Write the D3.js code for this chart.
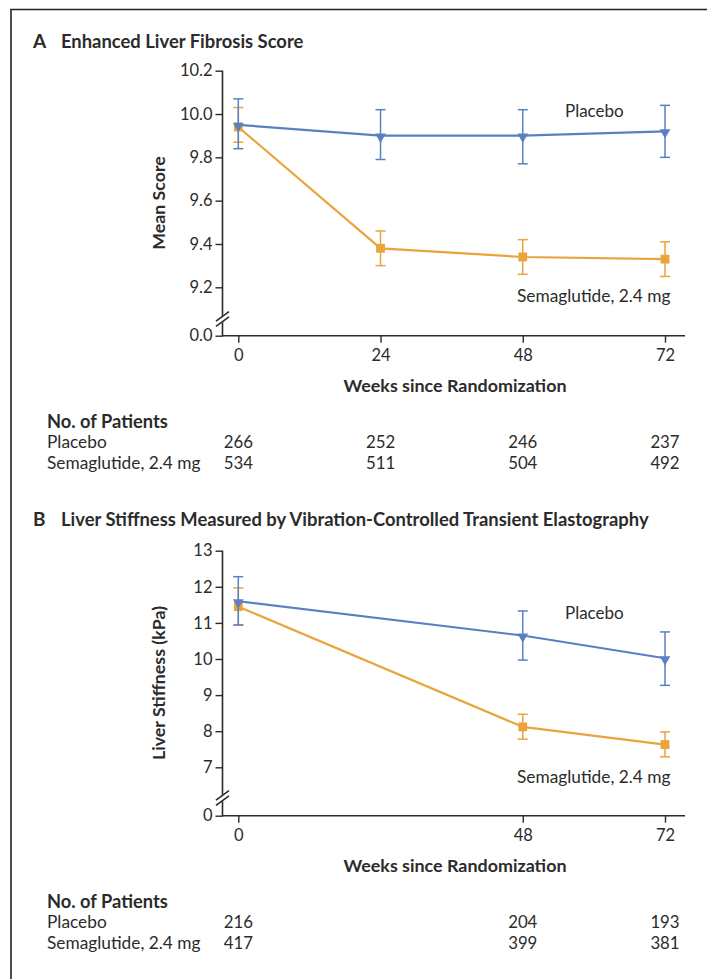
<!DOCTYPE html>
<html>
<head>
<meta charset="utf-8">
<script src="https://cdn.jsdelivr.net/npm/d3@7"></script>
<style>
  html, body { margin: 0; padding: 0; background: #fff; }
  svg { display: block; }
  text { font-family: Lato, "Open Sans", sans-serif; fill: #2b2b2b; }
</style>
</head>
<body>
<svg id="fig" width="707" height="979"></svg>
<script>
// ---- Panel A: Enhanced Liver Fibrosis score ----
const weeksA = [0, 24, 48, 72];
const placeboA = [9.95, 9.90, 9.90, 9.92];
const placeboA_lo = [9.84, 9.79, 9.77, 9.80];
const placeboA_hi = [10.07, 10.02, 10.02, 10.04];
const semaA = [9.94, 9.38, 9.34, 9.33];
const semaA_lo = [9.87, 9.30, 9.26, 9.25];
const semaA_hi = [10.03, 9.46, 9.42, 9.41];
const yTicksA = [0, 9.2, 9.4, 9.6, 9.8, 10.0, 10.2];
const patientsA_placebo = [266, 252, 246, 237];
const patientsA_sema = [534, 511, 504, 492];

// ---- Panel B: liver stiffness (VCTE) ----
const weeksB = [0, 48, 72];
const placeboB = [11.60, 10.65, 10.02];
const placeboB_lo = [10.94, 9.97, 9.27];
const placeboB_hi = [12.28, 11.33, 10.75];
const semaB = [11.45, 8.12, 7.63];
const semaB_lo = [10.95, 7.78, 7.29];
const semaB_hi = [11.97, 8.47, 7.98];
const yTicksB = [0, 7, 8, 9, 10, 11, 12, 13];
const patientsB_placebo = [216, 204, 193];
const patientsB_sema = [417, 399, 381];

const seriesNames = ["Placebo", "Semaglutide, 2.4 mg"];

const BLUE = "#5b80c2";
const ORANGE = "#e9a43c";
const INK = "#2b2b2b";

const svg = d3.select("#fig");

// frame (top and left rules)
svg.append("line").attr("x1", 10.5).attr("x2", 707).attr("y1", 9.5).attr("y2", 9.5)
  .attr("stroke", "#222").attr("stroke-width", 1.6);
svg.append("line").attr("x1", 11).attr("x2", 11).attr("y1", 9).attr("y2", 979)
  .attr("stroke", "#222").attr("stroke-width", 1.6);

function drawPanel(cfg) {
  const g = svg.append("g");

  // panel heading
  g.append("text").attr("x", 33).attr("y", cfg.titleY)
    .attr("font-size", 19).attr("font-weight", 700).text(cfg.letter);
  g.append("text").attr("x", 61).attr("y", cfg.titleY)
    .attr("font-size", 18.4).attr("font-weight", 700).text(cfg.title);

  const x = d3.scaleLinear().domain([0, 72]).range([238.3, 665]);
  const y = d3.scaleLinear().domain(cfg.yDomain).range(cfg.yRange);

  const axisX = 222.5;
  const base = cfg.yRange[0];
  const top = cfg.yRange[2];
  const brk = cfg.breakY;

  // y axis with a break between zero and the first value tick
  const yAxis = d3.axisLeft(y).tickValues(cfg.yTicks).tickFormat(cfg.fmt)
    .tickSize(7).tickPadding(3);
  const ya = g.append("g").attr("transform", `translate(${axisX},0)`).call(yAxis);
  ya.select(".domain").remove();
  ya.selectAll(".tick line").attr("stroke", INK).attr("stroke-width", 1.4);
  ya.selectAll(".tick text").attr("font-size", 16.5).attr("fill", INK)
    .attr("font-family", "Lato, sans-serif");

  const axisStroke = { stroke: INK, "stroke-width": 1.6 };
  function line(x1, y1, x2, y2) {
    const l = g.append("line").attr("x1", x1).attr("y1", y1).attr("x2", x2).attr("y2", y2);
    Object.entries(axisStroke).forEach(([k, v]) => l.attr(k, v));
    return l;
  }
  line(axisX, top, axisX, brk - 3.2);
  line(axisX, brk + 3.2, axisX, base + 0.8);
  [-2.6, 2.6].forEach(o => line(axisX - 6.5, brk + o + 4.8, axisX + 6.5, brk + o - 4.8));

  // x axis
  const xAxis = d3.axisBottom(x).tickValues(cfg.weeks).tickFormat(d3.format("d"))
    .tickSize(7).tickPadding(7);
  const xa = g.append("g").attr("transform", `translate(0,${base})`).call(xAxis);
  xa.select(".domain").remove();
  xa.selectAll(".tick line").attr("stroke", INK).attr("stroke-width", 1.4);
  xa.selectAll(".tick text").attr("font-size", 16.5).attr("fill", INK)
    .attr("font-family", "Lato, sans-serif");
  line(axisX, base, 685, base);

  // axis titles
  g.append("text").attr("x", 455).attr("y", cfg.xTitleY).attr("text-anchor", "middle")
    .attr("font-size", 17.9).attr("font-weight", 700).text("Weeks since Randomization");
  g.append("text")
    .attr("transform", `translate(165,${cfg.yTitleMid}) rotate(-90)`)
    .attr("text-anchor", "middle").attr("font-size", 17.8).attr("font-weight", 700)
    .text(cfg.yTitle);

  // series: error bars, connecting line, markers
  const series = [
    { v: cfg.sema, lo: cfg.semaLo, hi: cfg.semaHi, color: ORANGE, sym: "square" },
    { v: cfg.placebo, lo: cfg.placeboLo, hi: cfg.placeboHi, color: BLUE, sym: "tri" }
  ];
  series.forEach(s => {
    const pts = cfg.weeks.map((w, i) => ({ w, v: s.v[i], lo: s.lo[i], hi: s.hi[i] }));
    const sg = g.append("g");
    const eb = sg.selectAll(".eb").data(pts).enter().append("g")
      .attr("stroke", s.color).attr("stroke-width", 1.5).attr("fill", "none");
    eb.append("line").attr("x1", d => x(d.w)).attr("x2", d => x(d.w))
      .attr("y1", d => y(d.lo)).attr("y2", d => y(d.hi));
    eb.append("line").attr("x1", d => x(d.w) - 5).attr("x2", d => x(d.w) + 5)
      .attr("y1", d => y(d.lo)).attr("y2", d => y(d.lo));
    eb.append("line").attr("x1", d => x(d.w) - 5).attr("x2", d => x(d.w) + 5)
      .attr("y1", d => y(d.hi)).attr("y2", d => y(d.hi));

    sg.append("path").datum(pts)
      .attr("d", d3.line().x(d => x(d.w)).y(d => y(d.v)))
      .attr("fill", "none").attr("stroke", s.color).attr("stroke-width", 2.2);

    const symbol = s.sym === "square"
      ? d3.symbol().type(d3.symbolSquare).size(78)
      : d3.symbol().type(d3.symbolTriangle).size(50);
    sg.selectAll(".mk").data(pts).enter().append("path")
      .attr("d", symbol())
      .attr("transform", d => `translate(${x(d.w)},${y(d.v) + (s.sym === "tri" ? 1 : 0)})` +
        (s.sym === "tri" ? " rotate(180)" : ""))
      .attr("fill", s.color);
  });

  // direct series labels
  g.append("text").attr("x", 565).attr("y", cfg.placeboLabelY)
    .attr("font-size", 17).text(seriesNames[0]);
  g.append("text").attr("x", 517).attr("y", cfg.semaLabelY)
    .attr("font-size", 17.3).text(seriesNames[1]);

  // number-at-risk table
  g.append("text").attr("x", 47).attr("y", cfg.tableY)
    .attr("font-size", 18.3).attr("font-weight", 700).text("No. of Patients");
  [[seriesNames[0], cfg.nPlacebo], [seriesNames[1], cfg.nSema]].forEach(([name, counts], r) => {
    const ry = cfg.tableY + 20 + r * 20.5;
    g.append("text").attr("x", 47).attr("y", ry).attr("font-size", 17.3).text(name);
    g.selectAll(null).data(counts).enter().append("text")
      .attr("x", (d, i) => x(cfg.weeks[i])).attr("y", ry)
      .attr("text-anchor", "middle").attr("font-size", 16.8).text(d => d);
  });
}

drawPanel({
  letter: "A", title: "Enhanced Liver Fibrosis Score", titleY: 48,
  yDomain: [0, 9.2, 10.2], yRange: [335.7, 287.3, 70.7], yTicks: yTicksA,
  fmt: d3.format(".1f"), breakY: 319,
  weeks: weeksA,
  placebo: placeboA, placeboLo: placeboA_lo, placeboHi: placeboA_hi,
  sema: semaA, semaLo: semaA_lo, semaHi: semaA_hi,
  xTitleY: 392, yTitle: "Mean Score", yTitleMid: 203,
  placeboLabelY: 117, semaLabelY: 302,
  tableY: 428, nPlacebo: patientsA_placebo, nSema: patientsA_sema
});

drawPanel({
  letter: "B", title: "Liver Stiffness Measured by Vibration-Controlled Transient Elastography",
  titleY: 526,
  yDomain: [0, 7, 13], yRange: [815.7, 767.3, 550.7], yTicks: yTicksB,
  fmt: d3.format("d"), breakY: 798,
  weeks: weeksB,
  placebo: placeboB, placeboLo: placeboB_lo, placeboHi: placeboB_hi,
  sema: semaB, semaLo: semaB_lo, semaHi: semaB_hi,
  xTitleY: 872, yTitle: "Liver Stiffness (kPa)", yTitleMid: 683,
  placeboLabelY: 619, semaLabelY: 783,
  tableY: 908, nPlacebo: patientsB_placebo, nSema: patientsB_sema
});
</script>
</body>
</html>
